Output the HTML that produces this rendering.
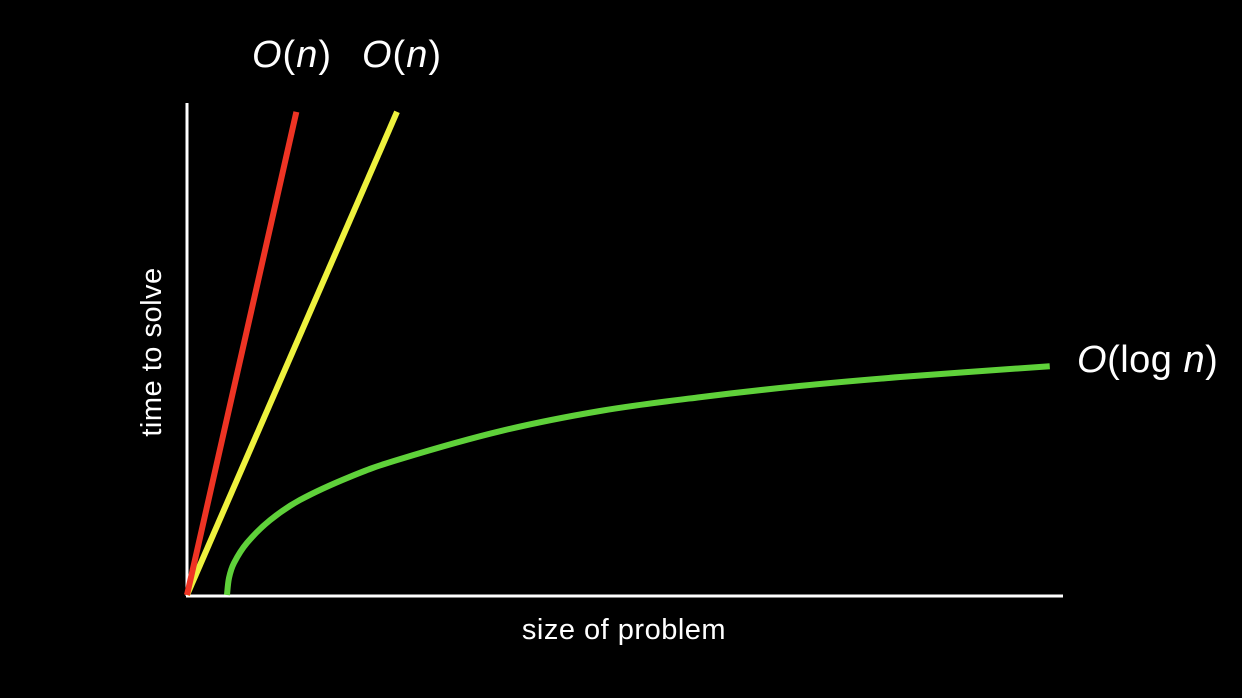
<!DOCTYPE html>
<html><head><meta charset="utf-8"><style>
html,body{margin:0;padding:0;background:#000;}
svg{display:block;}
text{font-family:"Liberation Sans",sans-serif;fill:#fff;}
</style></head><body>
<svg id="chart" width="1242" height="698" viewBox="0 0 1242 698">
<rect width="1242" height="698" fill="#000"/>
<line x1="187" y1="103" x2="187" y2="596" stroke="#fff" stroke-width="3"/>
<line x1="186" y1="596" x2="1063" y2="596" stroke="#fff" stroke-width="3"/>
<text x="624" y="639" font-size="29" text-anchor="middle" letter-spacing="0.5">size of problem</text>
<text transform="translate(161,352) rotate(-90)" font-size="29" text-anchor="middle" letter-spacing="0.5">time to solve</text>
<g id="series"></g>
<text x="292" y="67" font-size="38" font-style="italic" text-anchor="middle" letter-spacing="1">O<tspan font-style="normal">(</tspan>n<tspan font-style="normal">)</tspan></text>
<text x="402" y="67" font-size="38" font-style="italic" text-anchor="middle" letter-spacing="1">O<tspan font-style="normal">(</tspan>n<tspan font-style="normal">)</tspan></text>
<text x="1077" y="372" font-size="38" letter-spacing="0.5"><tspan font-style="italic">O</tspan>(log <tspan font-style="italic">n</tspan>)</text>
</svg>
<script>
const redN = [0, 12.5];
const redT = [0, 98.2];
const yellowN = [0, 24.0];
const yellowT = [0, 98.2];
const greenN = [4.57, 4.8, 5.37, 6.86, 9.49, 12.9, 18.6, 24.3, 35.8, 47.2, 58.6, 70.1, 81.5, 98.6];
const greenT = [0, 3.46, 6.5, 10.6, 15.2, 19.3, 24.0, 27.6, 33.3, 37.4, 40.2, 42.5, 44.3, 46.5];

function xs(n){return 187 + n*8.75;}
function ys(t){return 595 - t*4.92;}
const NS="http://www.w3.org/2000/svg";
const g=document.getElementById('series');

function smoothPath(N,T){
  const p=N.map((n,i)=>[xs(n),ys(T[i])]);
  let d='M'+p[0][0]+','+p[0][1];
  for(let i=0;i<p.length-1;i++){
    const p0=p[i-1]||p[i],p1=p[i],p2=p[i+1],p3=p[i+2]||p2;
    const c1=[p1[0]+(p2[0]-p0[0])/6,p1[1]+(p2[1]-p0[1])/6];
    const c2=[p2[0]-(p3[0]-p1[0])/6,p2[1]-(p3[1]-p1[1])/6];
    d+=' C'+c1[0]+','+c1[1]+' '+c2[0]+','+c2[1]+' '+p2[0]+','+p2[1];
  }
  return d;
}
function linePath(N,T){return N.map((n,i)=>(i?'L':'M')+xs(n)+','+ys(T[i])).join(' ');}

const green=document.createElementNS(NS,'path');
green.setAttribute('d',smoothPath(greenN,greenT));
green.setAttribute('stroke','#5fd13a');green.setAttribute('stroke-width','6');green.setAttribute('fill','none');


g.appendChild(green);

const yellow=document.createElementNS(NS,'path');
yellow.setAttribute('d',linePath(yellowN,yellowT));
yellow.setAttribute('stroke','#eef23e');yellow.setAttribute('stroke-width','6');yellow.setAttribute('fill','none');


g.appendChild(yellow);

const red=document.createElementNS(NS,'path');
red.setAttribute('d',linePath(redN,redT));
red.setAttribute('stroke','#ee3424');red.setAttribute('stroke-width','6');red.setAttribute('fill','none');


g.appendChild(red);
</script>
</body></html>
